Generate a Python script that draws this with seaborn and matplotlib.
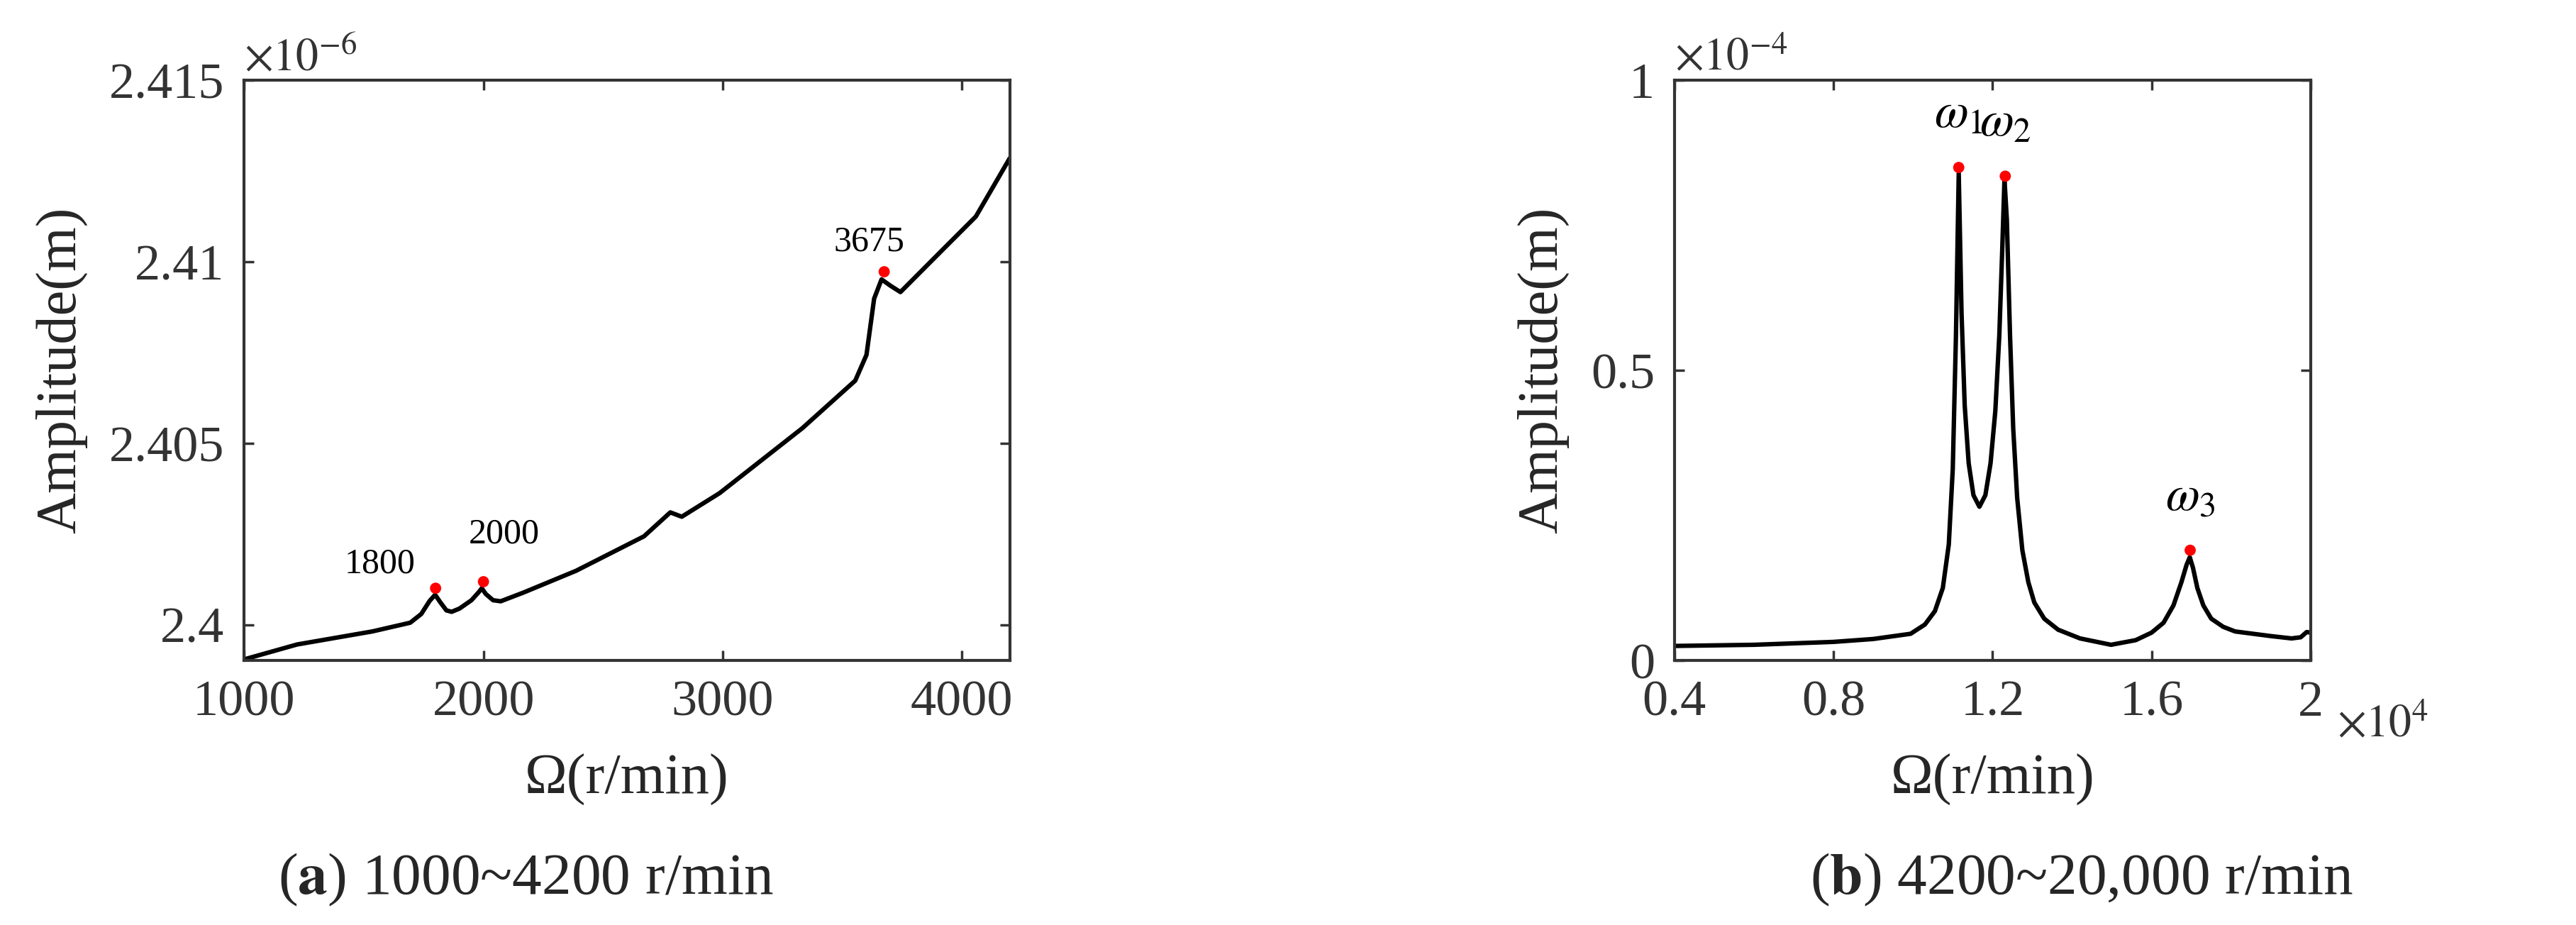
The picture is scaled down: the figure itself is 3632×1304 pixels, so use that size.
import matplotlib
matplotlib.use("Agg")
import matplotlib.pyplot as plt
import seaborn as sns

sns.set_theme(style="white")
plt.rcParams['font.family'] = ['Liberation Serif', 'DejaVu Serif']
plt.rcParams['mathtext.fontset'] = 'stix'

# Panel (a): speed (r/min) vs amplitude (x1e-6 m)
a_speed = [1000, 1221, 1536, 1694, 1740, 1775, 1798, 1820, 1845, 1867, 1900, 1950, 1980, 1993, 2010, 2040,
           2072, 2167, 2387, 2671, 2781, 2829, 2987, 3333, 3554, 3601, 3633, 3664, 3700, 3743, 3932, 4058, 4200]
a_amp = [2.39905, 2.39946, 2.39982, 2.40006, 2.40030, 2.40066, 2.40083, 2.40062, 2.40040, 2.40036, 2.40045,
         2.40068, 2.40090, 2.40101, 2.40085, 2.40068, 2.40065, 2.40089, 2.40149, 2.40244, 2.40310, 2.40298,
         2.40363, 2.40542, 2.40673, 2.40744, 2.40899, 2.40952, 2.40935, 2.40917, 2.41042, 2.41125, 2.41286]
a_peak_speed = [1800, 2000, 3675]
a_peak_amp = [2.40101, 2.40119, 2.40973]
a_peak_labels = ["1800", "2000", "3675"]
a_label_pos = [(1568, 2.40167), (2087, 2.40250), (3612, 2.41054)]

# Panel (b): speed (x1e4 r/min) vs amplitude (x1e-4 m)
b_speed = [0.40, 0.60, 0.80, 0.90, 0.994, 1.030, 1.055, 1.075, 1.090, 1.100, 1.108, 1.115, 1.122, 1.130,
           1.140, 1.152, 1.167, 1.182, 1.195, 1.207, 1.217, 1.224, 1.230, 1.236, 1.244, 1.252, 1.262,
           1.275, 1.290, 1.305, 1.330, 1.365, 1.420, 1.498, 1.560, 1.600, 1.630, 1.655, 1.675, 1.688,
           1.696, 1.704, 1.715, 1.730, 1.750, 1.780, 1.810, 1.900, 1.952, 1.975, 1.990, 2.000]
b_amp = [0.025, 0.027, 0.032, 0.037, 0.046, 0.062, 0.085, 0.125, 0.200, 0.330, 0.560, 0.840, 0.600, 0.440,
         0.340, 0.285, 0.265, 0.285, 0.340, 0.430, 0.560, 0.700, 0.830, 0.760, 0.560, 0.400, 0.280,
         0.190, 0.135, 0.100, 0.072, 0.053, 0.038, 0.027, 0.035, 0.048, 0.065, 0.095, 0.135, 0.165,
         0.178, 0.160, 0.125, 0.095, 0.072, 0.058, 0.050, 0.042, 0.038, 0.040, 0.049, 0.048]
b_peak_speed = [1.115, 1.232, 1.697]
b_peak_amp = [0.850, 0.835, 0.190]
b_peak_labels = [r"$\omega_1$", r"$\omega_2$", r"$\omega_3$"]

W, H = 3632, 1304
fig = plt.figure(figsize=(W / 100, H / 100), dpi=100)
ax1 = fig.add_axes([0.0948, 0.286, 0.2972, 0.627])
ax2 = fig.add_axes([0.650, 0.286, 0.247, 0.627])

fs = 52
for ax in (ax1, ax2):
    for s in ax.spines.values():
        s.set_linewidth(3)
        s.set_color('#333333')
    ax.tick_params(direction='in', length=10, width=2.5, labelsize=fs, top=True, right=True,
                   bottom=True, left=True, colors='#333333', pad=20)

sns.lineplot(x=a_speed, y=a_amp, ax=ax1, color='black', linewidth=4.5, sort=False)
ax1.scatter(a_peak_speed, a_peak_amp, color='red', s=130, zorder=5, edgecolors='none')
for lab, (px, py) in zip(a_peak_labels, a_label_pos):
    ax1.text(px, py, lab, fontsize=36, ha='center', va='center', color='black')
ax1.set_xlim(1000, 4200)
ax1.set_ylim(2.39902, 2.415)
ax1.set_xticks([1000, 2000, 3000, 4000])
ax1.set_xticklabels(["1000", "2000", "3000", "4000"], color='#333333')
ax1.set_yticks([2.4, 2.405, 2.41, 2.415])
ax1.set_yticklabels(["2.4", "2.405", "2.41", "2.415"], color='#333333')
ax1.set_xlabel("Ω(r/min)", fontsize=58, labelpad=28)
ax1.set_ylabel("Amplitude(m)", fontsize=58, labelpad=22)
ax1.text(0.0, 1.0, r"$\times10^{-6}$", transform=ax1.transAxes, fontsize=46, color='#333333',
         ha='left', va='bottom')

sns.lineplot(x=b_speed, y=b_amp, ax=ax2, color='black', linewidth=4.5, sort=False)
ax2.scatter(b_peak_speed, b_peak_amp, color='red', s=130, zorder=5, edgecolors='none')
for lab, px, py in zip(b_peak_labels, b_peak_speed, b_peak_amp):
    ax2.text(px, py + 0.09, lab, fontsize=50, ha='center', va='center', color='black')
ax2.set_xlim(0.4, 2.0)
ax2.set_ylim(0, 1)
ax2.set_xticks([0.4, 0.8, 1.2, 1.6, 2.0])
ax2.set_xticklabels(["0.4", "0.8", "1.2", "1.6", "2"], color='#333333')
ax2.set_yticks([0, 0.5, 1])
ax2.set_yticklabels(["0", "0.5", "1"], color='#333333')
ax2.set_xlabel("Ω(r/min)", fontsize=58, labelpad=28)
ax2.set_ylabel("Amplitude(m)", fontsize=58, labelpad=22)
ax2.text(0.0, 1.0, r"$\times10^{-4}$", transform=ax2.transAxes, fontsize=46, color='#333333',
         ha='left', va='bottom')
fig.text(0.925, 0.215, r"$\times10^{4}$", fontsize=46, color='#333333', ha='center', va='center')

fig.text(0.204, 0.049, r"($\mathbf{a}$) 1000~4200 r/min", fontsize=60, ha='center', va='center')
fig.text(0.808, 0.049, r"($\mathbf{b}$) 4200~20,000 r/min", fontsize=60, ha='center', va='center')

fig.savefig("out.png", dpi=100)
